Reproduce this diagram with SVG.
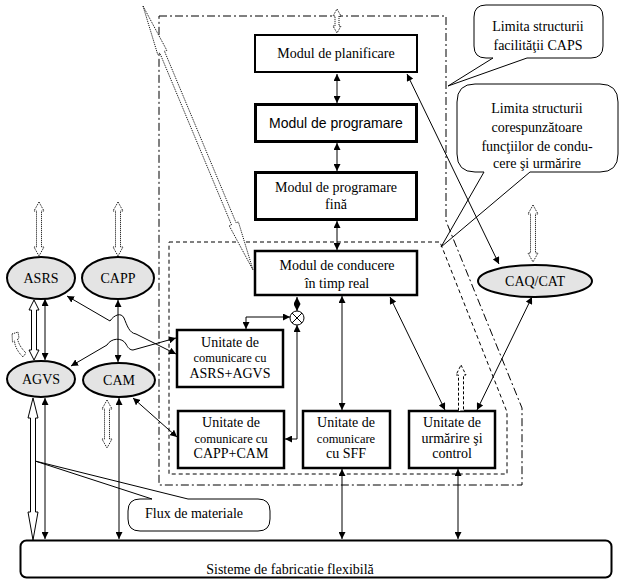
<svg xmlns="http://www.w3.org/2000/svg" width="622" height="580" viewBox="0 0 622 580">
<defs>
<marker id="ah" markerUnits="userSpaceOnUse" markerWidth="7" markerHeight="7" refX="7" refY="3.5" orient="auto-start-reverse" viewBox="0 0 7 7"><path d="M0,0 L7,3.5 L0,7 z" fill="#000"/></marker>
</defs>
<style>
.box{fill:#fff;stroke:#000}
.ell{fill:#e4e4e4;stroke:#000;stroke-width:2}
text{font-family:'Liberation Serif','Times New Roman',serif;font-size:14px;text-anchor:middle;fill:#000}
text.sm{font-size:12.5px}
text.s{font-family:'Liberation Sans',Arial,sans-serif}
.ln{stroke:#000;stroke-width:1;fill:none;marker-start:url(#ah);marker-end:url(#ah)}
.dot{fill:#fff;stroke:#000;stroke-width:1;stroke-dasharray:1 1}
.dsh{fill:#fff;stroke:#000;stroke-width:1;stroke-dasharray:3 2}
.hol{fill:#fff;stroke:#000;stroke-width:1}
.call{fill:#fff;stroke:#000;stroke-width:1}
.b1{fill:none;stroke:#000;stroke-width:1;stroke-dasharray:8 3 2 3}
.b2{fill:none;stroke:#000;stroke-width:1;stroke-dasharray:4 3}
</style>
<rect width="622" height="580" fill="#fff"/>

<g id="callouts">
<path class="call" d="M486,5 H591 Q603,5 603,17 V46 Q603,58 591,58 H527 L448,86 L493,58 H486 Q474,58 474,46 V17 Q474,5 486,5 Z"/>
<text x="538" y="31">Limita structurii</text>
<text x="538" y="50">facilităţii CAPS</text>
<path class="call" d="M475,84 H600 Q618,84 618,102 V154 Q618,172 600,172 H530 L441,247 L484,172 H475 Q457,172 457,154 V102 Q457,84 475,84 Z"/>
<text x="537" y="113">Limita structurii</text>
<text x="537" y="132">corespunzătoare</text>
<text x="537" y="151">funcţiilor de condu-</text>
<text x="537" y="168">cere şi urmărire</text>
<path class="call" d="M140,499 H152 L35,461 L188,499 H258 Q270,499 270,511 V519 Q270,531 258,531 H140 Q128,531 128,519 V511 Q128,499 140,499 Z"/>
<text x="194" y="518">Flux de materiale</text>
</g>

<g id="boundaries">
<path class="b1" d="M159,16 H446 V221 L522,408 V485 H159 Z"/>
<path class="b2" d="M169,242 H440 L507,412 V474 H169 Z"/>
</g>

<g id="planificare"><rect class="box" x="255" y="35" width="162" height="37" stroke-width="2"/><text x="336" y="58">Modul de planificare</text></g>
<g id="programare"><rect class="box" x="255.5" y="104.5" width="161" height="37" stroke-width="3"/><text class="s" x="336" y="128">Modul de programare</text></g>
<g id="programare-fina"><rect class="box" x="255.5" y="172.5" width="161" height="47" stroke-width="3"/><text x="336" y="192">Modul de programare</text><text x="336" y="209">fină</text></g>
<g id="conducere"><rect class="box" x="255" y="251" width="162" height="44" stroke-width="2.5"/><text x="337" y="270">Modul de conducere</text><text x="337" y="288">în timp real</text></g>
<g id="u-asrs-agvs"><rect class="box" x="177" y="330" width="106" height="57" stroke-width="2.5"/><text x="230" y="347">Unitate de</text><text class="sm" x="230" y="362">comunicare cu</text><text x="230" y="378">ASRS+AGVS</text></g>
<g id="u-capp-cam"><rect class="box" x="178" y="411" width="106" height="57" stroke-width="2.5"/><text x="231" y="427">Unitate de</text><text class="sm" x="231" y="443">comunicare cu</text><text x="231" y="458">CAPP+CAM</text></g>
<g id="u-sff"><rect class="box" x="303" y="411" width="87" height="57" stroke-width="2.5"/><text x="346" y="427">Unitate de</text><text class="sm" x="346" y="443">comunicare</text><text x="346" y="458">cu SFF</text></g>
<g id="u-urmarire"><rect class="box" x="409" y="411" width="86" height="57" stroke-width="2.5"/><text x="452" y="427">Unitate de</text><text x="452" y="443">urmărire şi</text><text x="452" y="458">control</text></g>
<g id="sumator"><circle cx="297" cy="318" r="7" fill="#fff" stroke="#000"/><path d="M292,313 L302,323 M302,313 L292,323" stroke="#000"/></g>

<g id="asrs"><ellipse class="ell" cx="41" cy="278" rx="34" ry="21"/><text x="41" y="283">ASRS</text></g>
<g id="capp"><ellipse class="ell" cx="118" cy="278" rx="36" ry="21"/><text x="118" y="283">CAPP</text></g>
<g id="agvs"><ellipse class="ell" cx="41" cy="379" rx="34" ry="18"/><text x="41" y="384">AGVS</text></g>
<g id="cam"><ellipse class="ell" cx="119" cy="380" rx="36" ry="17"/><text x="119" y="385">CAM</text></g>
<g id="caq-cat"><ellipse class="ell" cx="535" cy="281" rx="57" ry="16"/><text x="535" y="286">CAQ/CAT</text></g>
<g id="sff"><rect class="box" x="20.5" y="540.5" width="591" height="37" rx="6" stroke-width="2"/><text x="290" y="574">Sisteme de fabricatie flexibilă</text></g>

<g id="connectors">
<polygon class="dot" points="337,9 341,16 339,16 339,26 341,26 337,33 333,26 335,26 335,16 333,16"/>
<polygon class="dot" points="143,6 166.8,50.3 164.5,51.2 236.1,222.8 238.4,221.9 253,270 229.2,225.7 231.5,224.8 159.9,53.2 157.6,54.1"/>
<polygon class="dot" points="39,202 44,211 41.5,211 41.5,247 44,247 39,256 34,247 36.5,247 36.5,211 34,211"/>
<polygon class="dot" points="118,202 123,211 120.5,211 120.5,247 123,247 118,256 113,247 115.5,247 115.5,211 113,211"/>
<polygon class="dot" points="107,400 112,409 109.5,409 109.5,439 112,439 107,448 102,439 104.5,439 104.5,409 102,409"/>
<polygon class="dot" points="533,205 538,214 535.5,214 535.5,253 538,253 533,262 528,253 530.5,253 530.5,214 528,214"/>
<polygon class="dsh" points="461,365 466,375 463.5,375 463.5,411 458.5,411 458.5,375 456,375"/>
<path class="dot" d="M12,334 L18,332 L19,338 L17.5,339 C19,345 22,349 26,353 L23,357 C18,352 15,347 14.5,341 L12.5,342 Z"/>
<polygon class="hol" points="34,300 39,310 36.5,310 36.5,350 39,350 34,360 29,350 31.5,350 31.5,310 29,310"/>
<polygon class="hol" points="33,398 38,418 35.5,418 35.5,512 38,512 33,540 28,512 30.5,512 30.5,418 28,418"/>

<line class="ln" x1="337" y1="74" x2="337" y2="103"/>
<line class="ln" x1="337" y1="143" x2="337" y2="171"/>
<line class="ln" x1="337" y1="221" x2="337" y2="250"/>
<line class="ln" x1="297" y1="311" x2="297" y2="297"/>
<path class="ln" d="M246,329 V317 H290"/>
<path class="ln" d="M297,325 V439 H285"/>
<line class="ln" x1="342" y1="296" x2="342" y2="410"/>
<line class="ln" x1="390" y1="297" x2="445" y2="410"/>
<line class="ln" x1="532" y1="297" x2="477" y2="410"/>
<line class="ln" x1="407" y1="74" x2="499" y2="264"/>
<line class="ln" x1="342" y1="469" x2="342" y2="539"/>
<line class="ln" x1="458" y1="469" x2="458" y2="539"/>
<line class="ln" x1="45" y1="299" x2="45" y2="360"/>
<line class="ln" x1="118" y1="300" x2="118" y2="362"/>
<line class="ln" x1="45" y1="398" x2="45" y2="539"/>
<line class="ln" x1="119" y1="398" x2="119" y2="539"/>
<line class="ln" x1="133" y1="398" x2="177" y2="437"/>
<path class="ln" d="M67,296 L110,321 C114,315 121,312 124,318 C127,325 129,333 136,334 L176,354"/>
<path class="ln" d="M71,366 L107,345 C111,338 122,337 126,344 C128,348 130,350 133,350 L176,338"/>
</g>
</svg>
